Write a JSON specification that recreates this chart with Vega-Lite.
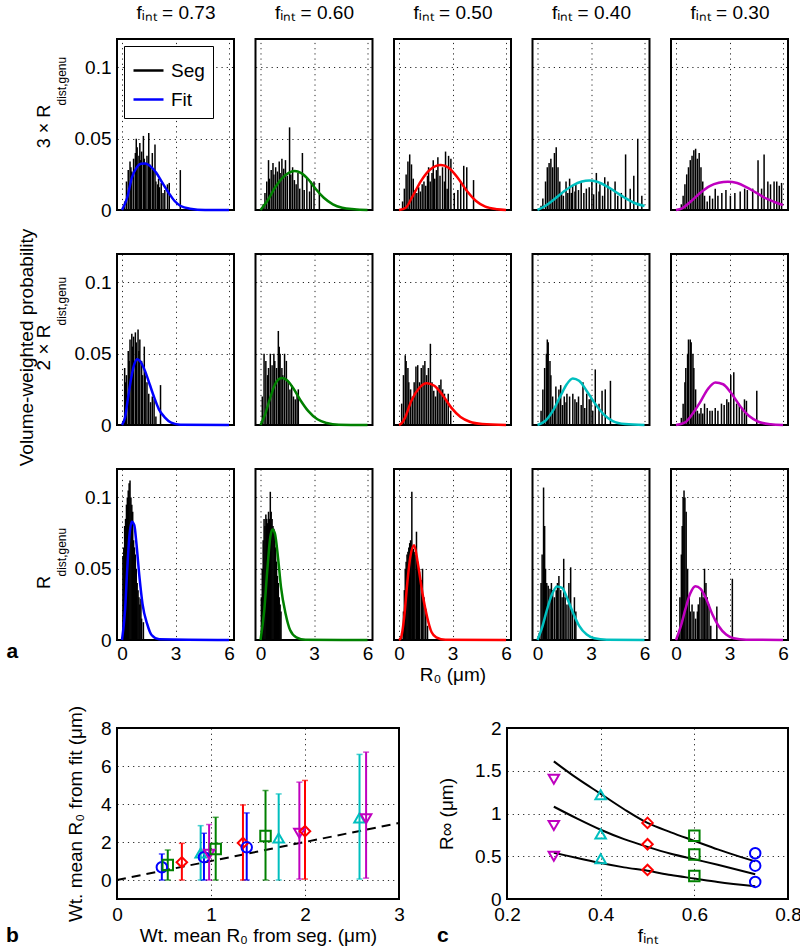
{
"$schema":"https://vega.github.io/schema/vega-lite/v6.json",
"autosize":{"type":"pad"},
"padding":{"left":5,"top":2,"right":5,"bottom":5},
"background":"white",
"config":{
 "font":"Liberation Sans",
 "view":{"stroke":"black","strokeWidth":2},
 "axis":{"labelFont":"Liberation Sans","labelFontSize":19,"labelColor":"black","titleFont":"Liberation Sans","titleFontSize":19,"titleFontWeight":"normal","titleColor":"black","domain":false,"ticks":false,"grid":true,"gridColor":"black","gridDash":[1.2,4],"gridWidth":1,"gridOpacity":0.85,"labelPadding":6,"labelFlush":false},
 "title":{"font":"Liberation Sans","color":"black","fontWeight":"normal"}
},
"datasets":{
"grid":[
{"r":"3","c":"0.73","k":"b","x":0.15,"y":0.006},{"r":"3","c":"0.73","k":"b","x":0.25,"y":0.02},{"r":"3","c":"0.73","k":"b","x":0.35,"y":0.028},{"r":"3","c":"0.73","k":"b","x":0.45,"y":0.034},{"r":"3","c":"0.73","k":"b","x":0.5,"y":0.03},{"r":"3","c":"0.73","k":"b","x":0.55,"y":0.027},{"r":"3","c":"0.73","k":"b","x":0.65,"y":0.036},{"r":"3","c":"0.73","k":"b","x":0.75,"y":0.04},{"r":"3","c":"0.73","k":"b","x":0.8,"y":0.05},{"r":"3","c":"0.73","k":"b","x":0.85,"y":0.044},{"r":"3","c":"0.73","k":"b","x":0.95,"y":0.038},{"r":"3","c":"0.73","k":"b","x":1.0,"y":0.047},{"r":"3","c":"0.73","k":"b","x":1.05,"y":0.035},{"r":"3","c":"0.73","k":"b","x":1.1,"y":0.041},{"r":"3","c":"0.73","k":"b","x":1.2,"y":0.052},{"r":"3","c":"0.73","k":"b","x":1.25,"y":0.036},{"r":"3","c":"0.73","k":"b","x":1.3,"y":0.033},{"r":"3","c":"0.73","k":"b","x":1.4,"y":0.038},{"r":"3","c":"0.73","k":"b","x":1.5,"y":0.054},{"r":"3","c":"0.73","k":"b","x":1.55,"y":0.032},{"r":"3","c":"0.73","k":"b","x":1.6,"y":0.03},{"r":"3","c":"0.73","k":"b","x":1.7,"y":0.04},{"r":"3","c":"0.73","k":"b","x":1.75,"y":0.028},{"r":"3","c":"0.73","k":"b","x":1.85,"y":0.046},{"r":"3","c":"0.73","k":"b","x":1.9,"y":0.02},{"r":"3","c":"0.73","k":"b","x":2.0,"y":0.018},{"r":"3","c":"0.73","k":"b","x":2.05,"y":0.022},{"r":"3","c":"0.73","k":"b","x":2.1,"y":0.016},{"r":"3","c":"0.73","k":"b","x":2.2,"y":0.019},{"r":"3","c":"0.73","k":"b","x":2.3,"y":0.012},{"r":"3","c":"0.73","k":"b","x":2.4,"y":0.014},{"r":"3","c":"0.73","k":"b","x":2.55,"y":0.018},{"r":"3","c":"0.73","k":"b","x":2.65,"y":0.019},{"r":"3","c":"0.73","k":"b","x":3.27,"y":0.028},
{"r":"3","c":"0.73","k":"f","x":0,"y":0},{"r":"3","c":"0.73","k":"f","x":0.29,"y":0.0086},{"r":"3","c":"0.73","k":"f","x":0.55,"y":0.0226},{"r":"3","c":"0.73","k":"f","x":0.81,"y":0.0296},{"r":"3","c":"0.73","k":"f","x":1.06,"y":0.0324},{"r":"3","c":"0.73","k":"f","x":1.32,"y":0.0326},{"r":"3","c":"0.73","k":"f","x":1.58,"y":0.0308},{"r":"3","c":"0.73","k":"f","x":1.92,"y":0.0261},{"r":"3","c":"0.73","k":"f","x":2.26,"y":0.0191},{"r":"3","c":"0.73","k":"f","x":2.61,"y":0.0122},{"r":"3","c":"0.73","k":"f","x":2.95,"y":0.0063},{"r":"3","c":"0.73","k":"f","x":3.29,"y":0.0028},{"r":"3","c":"0.73","k":"f","x":3.81,"y":0.0009},{"r":"3","c":"0.73","k":"f","x":4.66,"y":0},{"r":"3","c":"0.73","k":"f","x":6,"y":0},
{"r":"3","c":"0.60","k":"b","x":0.15,"y":0.004},{"r":"3","c":"0.60","k":"b","x":0.25,"y":0.012},{"r":"3","c":"0.60","k":"b","x":0.35,"y":0.02},{"r":"3","c":"0.60","k":"b","x":0.45,"y":0.035},{"r":"3","c":"0.60","k":"b","x":0.5,"y":0.022},{"r":"3","c":"0.60","k":"b","x":0.6,"y":0.028},{"r":"3","c":"0.60","k":"b","x":0.7,"y":0.033},{"r":"3","c":"0.60","k":"b","x":0.75,"y":0.025},{"r":"3","c":"0.60","k":"b","x":0.85,"y":0.03},{"r":"3","c":"0.60","k":"b","x":0.95,"y":0.027},{"r":"3","c":"0.60","k":"b","x":1.05,"y":0.034},{"r":"3","c":"0.60","k":"b","x":1.1,"y":0.026},{"r":"3","c":"0.60","k":"b","x":1.2,"y":0.036},{"r":"3","c":"0.60","k":"b","x":1.3,"y":0.029},{"r":"3","c":"0.60","k":"b","x":1.4,"y":0.035},{"r":"3","c":"0.60","k":"b","x":1.5,"y":0.024},{"r":"3","c":"0.60","k":"b","x":1.63,"y":0.058},{"r":"3","c":"0.60","k":"b","x":1.7,"y":0.025},{"r":"3","c":"0.60","k":"b","x":1.8,"y":0.03},{"r":"3","c":"0.60","k":"b","x":1.9,"y":0.021},{"r":"3","c":"0.60","k":"b","x":2.0,"y":0.018},{"r":"3","c":"0.60","k":"b","x":2.1,"y":0.026},{"r":"3","c":"0.60","k":"b","x":2.2,"y":0.015},{"r":"3","c":"0.60","k":"b","x":2.35,"y":0.04},{"r":"3","c":"0.60","k":"b","x":2.45,"y":0.014},{"r":"3","c":"0.60","k":"b","x":2.6,"y":0.022},{"r":"3","c":"0.60","k":"b","x":2.75,"y":0.013},{"r":"3","c":"0.60","k":"b","x":2.85,"y":0.02},{"r":"3","c":"0.60","k":"b","x":3.0,"y":0.02},{"r":"3","c":"0.60","k":"b","x":3.3,"y":0.019},
{"r":"3","c":"0.60","k":"f","x":0,"y":0},{"r":"3","c":"0.60","k":"f","x":0.38,"y":0.0063},{"r":"3","c":"0.60","k":"f","x":0.81,"y":0.0156},{"r":"3","c":"0.60","k":"f","x":1.23,"y":0.0226},{"r":"3","c":"0.60","k":"f","x":1.58,"y":0.0261},{"r":"3","c":"0.60","k":"f","x":1.92,"y":0.0273},{"r":"3","c":"0.60","k":"f","x":2.26,"y":0.0261},{"r":"3","c":"0.60","k":"f","x":2.69,"y":0.0214},{"r":"3","c":"0.60","k":"f","x":3.12,"y":0.0144},{"r":"3","c":"0.60","k":"f","x":3.55,"y":0.0086},{"r":"3","c":"0.60","k":"f","x":4.06,"y":0.004},{"r":"3","c":"0.60","k":"f","x":4.58,"y":0.0016},{"r":"3","c":"0.60","k":"f","x":5.26,"y":0.0005},{"r":"3","c":"0.60","k":"f","x":6,"y":0},
{"r":"3","c":"0.50","k":"b","x":0.2,"y":0.006},{"r":"3","c":"0.50","k":"b","x":0.3,"y":0.015},{"r":"3","c":"0.50","k":"b","x":0.4,"y":0.025},{"r":"3","c":"0.50","k":"b","x":0.5,"y":0.034},{"r":"3","c":"0.50","k":"b","x":0.6,"y":0.039},{"r":"3","c":"0.50","k":"b","x":0.7,"y":0.032},{"r":"3","c":"0.50","k":"b","x":0.8,"y":0.022},{"r":"3","c":"0.50","k":"b","x":0.9,"y":0.014},{"r":"3","c":"0.50","k":"b","x":1.0,"y":0.012},{"r":"3","c":"0.50","k":"b","x":1.1,"y":0.016},{"r":"3","c":"0.50","k":"b","x":1.2,"y":0.013},{"r":"3","c":"0.50","k":"b","x":1.3,"y":0.018},{"r":"3","c":"0.50","k":"b","x":1.4,"y":0.02},{"r":"3","c":"0.50","k":"b","x":1.5,"y":0.017},{"r":"3","c":"0.50","k":"b","x":1.6,"y":0.024},{"r":"3","c":"0.50","k":"b","x":1.66,"y":0.03},{"r":"3","c":"0.50","k":"b","x":1.75,"y":0.02},{"r":"3","c":"0.50","k":"b","x":1.85,"y":0.026},{"r":"3","c":"0.50","k":"b","x":1.92,"y":0.035},{"r":"3","c":"0.50","k":"b","x":2.0,"y":0.022},{"r":"3","c":"0.50","k":"b","x":2.1,"y":0.028},{"r":"3","c":"0.50","k":"b","x":2.18,"y":0.037},{"r":"3","c":"0.50","k":"b","x":2.3,"y":0.024},{"r":"3","c":"0.50","k":"b","x":2.44,"y":0.03},{"r":"3","c":"0.50","k":"b","x":2.55,"y":0.02},{"r":"3","c":"0.50","k":"b","x":2.61,"y":0.041},{"r":"3","c":"0.50","k":"b","x":2.7,"y":0.015},{"r":"3","c":"0.50","k":"b","x":2.78,"y":0.038},{"r":"3","c":"0.50","k":"b","x":2.91,"y":0.036},{"r":"3","c":"0.50","k":"b","x":3.1,"y":0.012},{"r":"3","c":"0.50","k":"b","x":3.3,"y":0.014},{"r":"3","c":"0.50","k":"b","x":3.46,"y":0.02},{"r":"3","c":"0.50","k":"b","x":3.63,"y":0.031},{"r":"3","c":"0.50","k":"b","x":3.8,"y":0.03},{"r":"3","c":"0.50","k":"b","x":4.18,"y":0.021},
{"r":"3","c":"0.50","k":"f","x":0,"y":0},{"r":"3","c":"0.50","k":"f","x":0.38,"y":0.0016},{"r":"3","c":"0.50","k":"f","x":0.72,"y":0.0086},{"r":"3","c":"0.50","k":"f","x":1.23,"y":0.0203},{"r":"3","c":"0.50","k":"f","x":1.75,"y":0.0284},{"r":"3","c":"0.50","k":"f","x":2.35,"y":0.0315},{"r":"3","c":"0.50","k":"f","x":2.78,"y":0.0296},{"r":"3","c":"0.50","k":"f","x":3.29,"y":0.0226},{"r":"3","c":"0.50","k":"f","x":3.81,"y":0.0133},{"r":"3","c":"0.50","k":"f","x":4.32,"y":0.0063},{"r":"3","c":"0.50","k":"f","x":4.84,"y":0.0023},{"r":"3","c":"0.50","k":"f","x":5.52,"y":0.0005},{"r":"3","c":"0.50","k":"f","x":6,"y":0},
{"r":"3","c":"0.40","k":"b","x":0.2,"y":0.003},{"r":"3","c":"0.40","k":"b","x":0.3,"y":0.008},{"r":"3","c":"0.40","k":"b","x":0.45,"y":0.02},{"r":"3","c":"0.40","k":"b","x":0.55,"y":0.03},{"r":"3","c":"0.40","k":"b","x":0.65,"y":0.033},{"r":"3","c":"0.40","k":"b","x":0.75,"y":0.036},{"r":"3","c":"0.40","k":"b","x":0.85,"y":0.03},{"r":"3","c":"0.40","k":"b","x":0.95,"y":0.04},{"r":"3","c":"0.40","k":"b","x":1.05,"y":0.044},{"r":"3","c":"0.40","k":"b","x":1.15,"y":0.03},{"r":"3","c":"0.40","k":"b","x":1.25,"y":0.02},{"r":"3","c":"0.40","k":"b","x":1.35,"y":0.012},{"r":"3","c":"0.40","k":"b","x":1.45,"y":0.01},{"r":"3","c":"0.40","k":"b","x":1.6,"y":0.02},{"r":"3","c":"0.40","k":"b","x":1.7,"y":0.012},{"r":"3","c":"0.40","k":"b","x":1.8,"y":0.022},{"r":"3","c":"0.40","k":"b","x":1.9,"y":0.012},{"r":"3","c":"0.40","k":"b","x":1.97,"y":0.017},{"r":"3","c":"0.40","k":"b","x":2.1,"y":0.013},{"r":"3","c":"0.40","k":"b","x":2.15,"y":0.018},{"r":"3","c":"0.40","k":"b","x":2.3,"y":0.014},{"r":"3","c":"0.40","k":"b","x":2.45,"y":0.02},{"r":"3","c":"0.40","k":"b","x":2.6,"y":0.012},{"r":"3","c":"0.40","k":"b","x":2.74,"y":0.015},{"r":"3","c":"0.40","k":"b","x":2.9,"y":0.016},{"r":"3","c":"0.40","k":"b","x":3.05,"y":0.02},{"r":"3","c":"0.40","k":"b","x":3.15,"y":0.011},{"r":"3","c":"0.40","k":"b","x":3.3,"y":0.026},{"r":"3","c":"0.40","k":"b","x":3.45,"y":0.013},{"r":"3","c":"0.40","k":"b","x":3.5,"y":0.018},{"r":"3","c":"0.40","k":"b","x":3.65,"y":0.01},{"r":"3","c":"0.40","k":"b","x":3.77,"y":0.023},{"r":"3","c":"0.40","k":"b","x":3.95,"y":0.02},{"r":"3","c":"0.40","k":"b","x":4.1,"y":0.015},{"r":"3","c":"0.40","k":"b","x":4.35,"y":0.02},{"r":"3","c":"0.40","k":"b","x":4.5,"y":0.01},{"r":"3","c":"0.40","k":"b","x":4.7,"y":0.012},{"r":"3","c":"0.40","k":"b","x":4.94,"y":0.039},{"r":"3","c":"0.40","k":"b","x":5.2,"y":0.015},{"r":"3","c":"0.40","k":"b","x":5.4,"y":0.024},{"r":"3","c":"0.40","k":"b","x":5.62,"y":0.05},{"r":"3","c":"0.40","k":"b","x":5.85,"y":0.01},
{"r":"3","c":"0.40","k":"f","x":0,"y":0},{"r":"3","c":"0.40","k":"f","x":0.43,"y":0.0028},{"r":"3","c":"0.40","k":"f","x":0.94,"y":0.0075},{"r":"3","c":"0.40","k":"f","x":1.46,"y":0.0128},{"r":"3","c":"0.40","k":"f","x":1.97,"y":0.0172},{"r":"3","c":"0.40","k":"f","x":2.49,"y":0.02},{"r":"3","c":"0.40","k":"f","x":2.91,"y":0.0207},{"r":"3","c":"0.40","k":"f","x":3.34,"y":0.0198},{"r":"3","c":"0.40","k":"f","x":3.86,"y":0.0168},{"r":"3","c":"0.40","k":"f","x":4.37,"y":0.0128},{"r":"3","c":"0.40","k":"f","x":4.89,"y":0.0086},{"r":"3","c":"0.40","k":"f","x":5.4,"y":0.0051},{"r":"3","c":"0.40","k":"f","x":6,"y":0.0028},
{"r":"3","c":"0.30","k":"b","x":0.3,"y":0.004},{"r":"3","c":"0.30","k":"b","x":0.4,"y":0.01},{"r":"3","c":"0.30","k":"b","x":0.5,"y":0.018},{"r":"3","c":"0.30","k":"b","x":0.6,"y":0.025},{"r":"3","c":"0.30","k":"b","x":0.7,"y":0.03},{"r":"3","c":"0.30","k":"b","x":0.8,"y":0.035},{"r":"3","c":"0.30","k":"b","x":0.9,"y":0.038},{"r":"3","c":"0.30","k":"b","x":1.0,"y":0.042},{"r":"3","c":"0.30","k":"b","x":1.1,"y":0.043},{"r":"3","c":"0.30","k":"b","x":1.2,"y":0.036},{"r":"3","c":"0.30","k":"b","x":1.3,"y":0.04},{"r":"3","c":"0.30","k":"b","x":1.4,"y":0.03},{"r":"3","c":"0.30","k":"b","x":1.5,"y":0.02},{"r":"3","c":"0.30","k":"b","x":1.6,"y":0.01},{"r":"3","c":"0.30","k":"b","x":1.75,"y":0.006},{"r":"3","c":"0.30","k":"b","x":1.89,"y":0.01},{"r":"3","c":"0.30","k":"b","x":2.05,"y":0.008},{"r":"3","c":"0.30","k":"b","x":2.2,"y":0.015},{"r":"3","c":"0.30","k":"b","x":2.35,"y":0.01},{"r":"3","c":"0.30","k":"b","x":2.57,"y":0.012},{"r":"3","c":"0.30","k":"b","x":2.8,"y":0.014},{"r":"3","c":"0.30","k":"b","x":3.05,"y":0.01},{"r":"3","c":"0.30","k":"b","x":3.3,"y":0.012},{"r":"3","c":"0.30","k":"b","x":3.6,"y":0.013},{"r":"3","c":"0.30","k":"b","x":3.85,"y":0.015},{"r":"3","c":"0.30","k":"b","x":4.0,"y":0.014},{"r":"3","c":"0.30","k":"b","x":4.3,"y":0.015},{"r":"3","c":"0.30","k":"b","x":4.6,"y":0.035},{"r":"3","c":"0.30","k":"b","x":4.8,"y":0.015},{"r":"3","c":"0.30","k":"b","x":4.94,"y":0.039},{"r":"3","c":"0.30","k":"b","x":5.15,"y":0.02},{"r":"3","c":"0.30","k":"b","x":5.3,"y":0.018},{"r":"3","c":"0.30","k":"b","x":5.5,"y":0.02},{"r":"3","c":"0.30","k":"b","x":5.65,"y":0.02},{"r":"3","c":"0.30","k":"b","x":5.79,"y":0.017},{"r":"3","c":"0.30","k":"b","x":5.92,"y":0.019},
{"r":"3","c":"0.30","k":"f","x":0,"y":0},{"r":"3","c":"0.30","k":"f","x":0.34,"y":0.0012},{"r":"3","c":"0.30","k":"f","x":0.86,"y":0.0063},{"r":"3","c":"0.30","k":"f","x":1.37,"y":0.0121},{"r":"3","c":"0.30","k":"f","x":1.89,"y":0.0168},{"r":"3","c":"0.30","k":"f","x":2.4,"y":0.0191},{"r":"3","c":"0.30","k":"f","x":2.91,"y":0.0198},{"r":"3","c":"0.30","k":"f","x":3.43,"y":0.0189},{"r":"3","c":"0.30","k":"f","x":3.94,"y":0.0161},{"r":"3","c":"0.30","k":"f","x":4.46,"y":0.0124},{"r":"3","c":"0.30","k":"f","x":4.97,"y":0.0086},{"r":"3","c":"0.30","k":"f","x":5.49,"y":0.0058},{"r":"3","c":"0.30","k":"f","x":6,"y":0.0035},
{"r":"2","c":"0.73","k":"b","x":0.15,"y":0.04},{"r":"2","c":"0.73","k":"b","x":0.2,"y":0.03},{"r":"2","c":"0.73","k":"b","x":0.25,"y":0.035},{"r":"2","c":"0.73","k":"b","x":0.35,"y":0.052},{"r":"2","c":"0.73","k":"b","x":0.4,"y":0.045},{"r":"2","c":"0.73","k":"b","x":0.45,"y":0.06},{"r":"2","c":"0.73","k":"b","x":0.55,"y":0.064},{"r":"2","c":"0.73","k":"b","x":0.6,"y":0.055},{"r":"2","c":"0.73","k":"b","x":0.65,"y":0.062},{"r":"2","c":"0.73","k":"b","x":0.75,"y":0.065},{"r":"2","c":"0.73","k":"b","x":0.8,"y":0.058},{"r":"2","c":"0.73","k":"b","x":0.9,"y":0.067},{"r":"2","c":"0.73","k":"b","x":0.95,"y":0.052},{"r":"2","c":"0.73","k":"b","x":1.0,"y":0.06},{"r":"2","c":"0.73","k":"b","x":1.1,"y":0.045},{"r":"2","c":"0.73","k":"b","x":1.15,"y":0.035},{"r":"2","c":"0.73","k":"b","x":1.25,"y":0.055},{"r":"2","c":"0.73","k":"b","x":1.3,"y":0.035},{"r":"2","c":"0.73","k":"b","x":1.4,"y":0.03},{"r":"2","c":"0.73","k":"b","x":1.5,"y":0.022},{"r":"2","c":"0.73","k":"b","x":1.6,"y":0.016},{"r":"2","c":"0.73","k":"b","x":1.7,"y":0.02},{"r":"2","c":"0.73","k":"b","x":1.8,"y":0.018},{"r":"2","c":"0.73","k":"b","x":1.9,"y":0.006},{"r":"2","c":"0.73","k":"b","x":2.16,"y":0.028},
{"r":"2","c":"0.73","k":"f","x":0,"y":0},{"r":"2","c":"0.73","k":"f","x":0.17,"y":0.0052},{"r":"2","c":"0.73","k":"f","x":0.34,"y":0.0192},{"r":"2","c":"0.73","k":"f","x":0.52,"y":0.0333},{"r":"2","c":"0.73","k":"f","x":0.69,"y":0.0427},{"r":"2","c":"0.73","k":"f","x":0.86,"y":0.0462},{"r":"2","c":"0.73","k":"f","x":1.03,"y":0.0446},{"r":"2","c":"0.73","k":"f","x":1.29,"y":0.038},{"r":"2","c":"0.73","k":"f","x":1.55,"y":0.0286},{"r":"2","c":"0.73","k":"f","x":1.81,"y":0.0192},{"r":"2","c":"0.73","k":"f","x":2.07,"y":0.011},{"r":"2","c":"0.73","k":"f","x":2.41,"y":0.0052},{"r":"2","c":"0.73","k":"f","x":2.76,"y":0.0016},{"r":"2","c":"0.73","k":"f","x":3.28,"y":0.0002},{"r":"2","c":"0.73","k":"f","x":6,"y":0},
{"r":"2","c":"0.60","k":"b","x":0.1,"y":0.02},{"r":"2","c":"0.60","k":"b","x":0.2,"y":0.05},{"r":"2","c":"0.60","k":"b","x":0.3,"y":0.045},{"r":"2","c":"0.60","k":"b","x":0.4,"y":0.035},{"r":"2","c":"0.60","k":"b","x":0.45,"y":0.04},{"r":"2","c":"0.60","k":"b","x":0.55,"y":0.05},{"r":"2","c":"0.60","k":"b","x":0.65,"y":0.042},{"r":"2","c":"0.60","k":"b","x":0.75,"y":0.05},{"r":"2","c":"0.60","k":"b","x":0.8,"y":0.045},{"r":"2","c":"0.60","k":"b","x":0.9,"y":0.04},{"r":"2","c":"0.60","k":"b","x":1.0,"y":0.066},{"r":"2","c":"0.60","k":"b","x":1.05,"y":0.055},{"r":"2","c":"0.60","k":"b","x":1.1,"y":0.05},{"r":"2","c":"0.60","k":"b","x":1.2,"y":0.04},{"r":"2","c":"0.60","k":"b","x":1.25,"y":0.035},{"r":"2","c":"0.60","k":"b","x":1.35,"y":0.05},{"r":"2","c":"0.60","k":"b","x":1.45,"y":0.045},{"r":"2","c":"0.60","k":"b","x":1.55,"y":0.03},{"r":"2","c":"0.60","k":"b","x":1.65,"y":0.025},{"r":"2","c":"0.60","k":"b","x":1.75,"y":0.028},{"r":"2","c":"0.60","k":"b","x":1.85,"y":0.02},{"r":"2","c":"0.60","k":"b","x":1.95,"y":0.018},{"r":"2","c":"0.60","k":"b","x":2.05,"y":0.022},{"r":"2","c":"0.60","k":"b","x":2.12,"y":0.025},
{"r":"2","c":"0.60","k":"f","x":0,"y":0},{"r":"2","c":"0.60","k":"f","x":0.26,"y":0.0075},{"r":"2","c":"0.60","k":"f","x":0.52,"y":0.0181},{"r":"2","c":"0.60","k":"f","x":0.78,"y":0.0275},{"r":"2","c":"0.60","k":"f","x":1.03,"y":0.0322},{"r":"2","c":"0.60","k":"f","x":1.21,"y":0.0329},{"r":"2","c":"0.60","k":"f","x":1.47,"y":0.0315},{"r":"2","c":"0.60","k":"f","x":1.81,"y":0.0263},{"r":"2","c":"0.60","k":"f","x":2.24,"y":0.0174},{"r":"2","c":"0.60","k":"f","x":2.67,"y":0.0099},{"r":"2","c":"0.60","k":"f","x":3.19,"y":0.004},{"r":"2","c":"0.60","k":"f","x":3.71,"y":0.0014},{"r":"2","c":"0.60","k":"f","x":4.4,"y":0.0002},{"r":"2","c":"0.60","k":"f","x":6,"y":0},
{"r":"2","c":"0.50","k":"b","x":0.15,"y":0.015},{"r":"2","c":"0.50","k":"b","x":0.25,"y":0.035},{"r":"2","c":"0.50","k":"b","x":0.35,"y":0.049},{"r":"2","c":"0.50","k":"b","x":0.4,"y":0.045},{"r":"2","c":"0.50","k":"b","x":0.5,"y":0.04},{"r":"2","c":"0.50","k":"b","x":0.55,"y":0.03},{"r":"2","c":"0.50","k":"b","x":0.65,"y":0.025},{"r":"2","c":"0.50","k":"b","x":0.75,"y":0.02},{"r":"2","c":"0.50","k":"b","x":0.85,"y":0.03},{"r":"2","c":"0.50","k":"b","x":0.95,"y":0.041},{"r":"2","c":"0.50","k":"b","x":1.05,"y":0.042},{"r":"2","c":"0.50","k":"b","x":1.15,"y":0.03},{"r":"2","c":"0.50","k":"b","x":1.25,"y":0.04},{"r":"2","c":"0.50","k":"b","x":1.35,"y":0.042},{"r":"2","c":"0.50","k":"b","x":1.45,"y":0.045},{"r":"2","c":"0.50","k":"b","x":1.55,"y":0.035},{"r":"2","c":"0.50","k":"b","x":1.65,"y":0.04},{"r":"2","c":"0.50","k":"b","x":1.76,"y":0.057},{"r":"2","c":"0.50","k":"b","x":1.85,"y":0.03},{"r":"2","c":"0.50","k":"b","x":1.95,"y":0.024},{"r":"2","c":"0.50","k":"b","x":2.05,"y":0.02},{"r":"2","c":"0.50","k":"b","x":2.15,"y":0.025},{"r":"2","c":"0.50","k":"b","x":2.25,"y":0.028},{"r":"2","c":"0.50","k":"b","x":2.35,"y":0.032},{"r":"2","c":"0.50","k":"b","x":2.45,"y":0.025},{"r":"2","c":"0.50","k":"b","x":2.55,"y":0.022},{"r":"2","c":"0.50","k":"b","x":2.65,"y":0.018},{"r":"2","c":"0.50","k":"b","x":2.76,"y":0.022},{"r":"2","c":"0.50","k":"b","x":2.9,"y":0.01},
{"r":"2","c":"0.50","k":"f","x":0,"y":0},{"r":"2","c":"0.50","k":"f","x":0.17,"y":0.0015},{"r":"2","c":"0.50","k":"f","x":0.34,"y":0.0052},{"r":"2","c":"0.50","k":"f","x":0.69,"y":0.0169},{"r":"2","c":"0.50","k":"f","x":1.12,"y":0.0258},{"r":"2","c":"0.50","k":"f","x":1.55,"y":0.0293},{"r":"2","c":"0.50","k":"f","x":1.98,"y":0.0275},{"r":"2","c":"0.50","k":"f","x":2.41,"y":0.0216},{"r":"2","c":"0.50","k":"f","x":2.93,"y":0.0122},{"r":"2","c":"0.50","k":"f","x":3.45,"y":0.0056},{"r":"2","c":"0.50","k":"f","x":3.97,"y":0.0023},{"r":"2","c":"0.50","k":"f","x":4.66,"y":0.0007},{"r":"2","c":"0.50","k":"f","x":6,"y":0},
{"r":"2","c":"0.40","k":"b","x":0.2,"y":0.01},{"r":"2","c":"0.40","k":"b","x":0.3,"y":0.025},{"r":"2","c":"0.40","k":"b","x":0.4,"y":0.04},{"r":"2","c":"0.40","k":"b","x":0.5,"y":0.05},{"r":"2","c":"0.40","k":"b","x":0.55,"y":0.06},{"r":"2","c":"0.40","k":"b","x":0.6,"y":0.058},{"r":"2","c":"0.40","k":"b","x":0.7,"y":0.045},{"r":"2","c":"0.40","k":"b","x":0.75,"y":0.035},{"r":"2","c":"0.40","k":"b","x":0.85,"y":0.02},{"r":"2","c":"0.40","k":"b","x":0.95,"y":0.012},{"r":"2","c":"0.40","k":"b","x":1.03,"y":0.027},{"r":"2","c":"0.40","k":"b","x":1.15,"y":0.015},{"r":"2","c":"0.40","k":"b","x":1.2,"y":0.025},{"r":"2","c":"0.40","k":"b","x":1.3,"y":0.028},{"r":"2","c":"0.40","k":"b","x":1.4,"y":0.014},{"r":"2","c":"0.40","k":"b","x":1.5,"y":0.02},{"r":"2","c":"0.40","k":"b","x":1.6,"y":0.016},{"r":"2","c":"0.40","k":"b","x":1.65,"y":0.022},{"r":"2","c":"0.40","k":"b","x":1.8,"y":0.02},{"r":"2","c":"0.40","k":"b","x":1.98,"y":0.022},{"r":"2","c":"0.40","k":"b","x":2.1,"y":0.018},{"r":"2","c":"0.40","k":"b","x":2.2,"y":0.016},{"r":"2","c":"0.40","k":"b","x":2.3,"y":0.02},{"r":"2","c":"0.40","k":"b","x":2.45,"y":0.014},{"r":"2","c":"0.40","k":"b","x":2.55,"y":0.03},{"r":"2","c":"0.40","k":"b","x":2.65,"y":0.012},{"r":"2","c":"0.40","k":"b","x":2.76,"y":0.022},{"r":"2","c":"0.40","k":"b","x":2.9,"y":0.018},{"r":"2","c":"0.40","k":"b","x":3.0,"y":0.02},{"r":"2","c":"0.40","k":"b","x":3.1,"y":0.01},{"r":"2","c":"0.40","k":"b","x":3.24,"y":0.039},{"r":"2","c":"0.40","k":"b","x":3.45,"y":0.015},{"r":"2","c":"0.40","k":"b","x":3.62,"y":0.024},{"r":"2","c":"0.40","k":"b","x":3.8,"y":0.025},{"r":"2","c":"0.40","k":"b","x":4.09,"y":0.031},
{"r":"2","c":"0.40","k":"f","x":0,"y":0},{"r":"2","c":"0.40","k":"f","x":0.43,"y":0.0028},{"r":"2","c":"0.40","k":"f","x":0.86,"y":0.0099},{"r":"2","c":"0.40","k":"f","x":1.29,"y":0.0204},{"r":"2","c":"0.40","k":"f","x":1.64,"y":0.0286},{"r":"2","c":"0.40","k":"f","x":1.98,"y":0.0326},{"r":"2","c":"0.40","k":"f","x":2.33,"y":0.031},{"r":"2","c":"0.40","k":"f","x":2.76,"y":0.0239},{"r":"2","c":"0.40","k":"f","x":3.19,"y":0.0157},{"r":"2","c":"0.40","k":"f","x":3.71,"y":0.0075},{"r":"2","c":"0.40","k":"f","x":4.22,"y":0.0028},{"r":"2","c":"0.40","k":"f","x":4.91,"y":0.0007},{"r":"2","c":"0.40","k":"f","x":6,"y":0},
{"r":"2","c":"0.30","k":"b","x":0.3,"y":0.005},{"r":"2","c":"0.30","k":"b","x":0.4,"y":0.015},{"r":"2","c":"0.30","k":"b","x":0.5,"y":0.03},{"r":"2","c":"0.30","k":"b","x":0.55,"y":0.04},{"r":"2","c":"0.30","k":"b","x":0.65,"y":0.05},{"r":"2","c":"0.30","k":"b","x":0.7,"y":0.06},{"r":"2","c":"0.30","k":"b","x":0.8,"y":0.06},{"r":"2","c":"0.30","k":"b","x":0.85,"y":0.058},{"r":"2","c":"0.30","k":"b","x":0.95,"y":0.05},{"r":"2","c":"0.30","k":"b","x":1.0,"y":0.04},{"r":"2","c":"0.30","k":"b","x":1.1,"y":0.025},{"r":"2","c":"0.30","k":"b","x":1.2,"y":0.01},{"r":"2","c":"0.30","k":"b","x":1.3,"y":0.008},{"r":"2","c":"0.30","k":"b","x":1.4,"y":0.012},{"r":"2","c":"0.30","k":"b","x":1.5,"y":0.008},{"r":"2","c":"0.30","k":"b","x":1.6,"y":0.015},{"r":"2","c":"0.30","k":"b","x":1.75,"y":0.012},{"r":"2","c":"0.30","k":"b","x":1.9,"y":0.01},{"r":"2","c":"0.30","k":"b","x":2.03,"y":0.01},{"r":"2","c":"0.30","k":"b","x":2.2,"y":0.012},{"r":"2","c":"0.30","k":"b","x":2.35,"y":0.01},{"r":"2","c":"0.30","k":"b","x":2.55,"y":0.015},{"r":"2","c":"0.30","k":"b","x":2.7,"y":0.014},{"r":"2","c":"0.30","k":"b","x":2.85,"y":0.018},{"r":"2","c":"0.30","k":"b","x":2.95,"y":0.016},{"r":"2","c":"0.30","k":"b","x":3.07,"y":0.035},{"r":"2","c":"0.30","k":"b","x":3.24,"y":0.037},{"r":"2","c":"0.30","k":"b","x":3.4,"y":0.015},{"r":"2","c":"0.30","k":"b","x":3.55,"y":0.015},{"r":"2","c":"0.30","k":"b","x":3.7,"y":0.012},{"r":"2","c":"0.30","k":"b","x":3.84,"y":0.018},{"r":"2","c":"0.30","k":"b","x":3.95,"y":0.017},{"r":"2","c":"0.30","k":"b","x":4.53,"y":0.024},
{"r":"2","c":"0.30","k":"f","x":0,"y":0},{"r":"2","c":"0.30","k":"f","x":0.48,"y":0.0016},{"r":"2","c":"0.30","k":"f","x":0.91,"y":0.0075},{"r":"2","c":"0.30","k":"f","x":1.34,"y":0.0157},{"r":"2","c":"0.30","k":"f","x":1.78,"y":0.0251},{"r":"2","c":"0.30","k":"f","x":2.21,"y":0.0298},{"r":"2","c":"0.30","k":"f","x":2.64,"y":0.0286},{"r":"2","c":"0.30","k":"f","x":3.07,"y":0.0228},{"r":"2","c":"0.30","k":"f","x":3.59,"y":0.0134},{"r":"2","c":"0.30","k":"f","x":4.1,"y":0.0063},{"r":"2","c":"0.30","k":"f","x":4.62,"y":0.0023},{"r":"2","c":"0.30","k":"f","x":5.31,"y":0.0005},{"r":"2","c":"0.30","k":"f","x":6,"y":0},
{"r":"1","c":"0.73","k":"b","x":0.05,"y":0.059},{"r":"1","c":"0.73","k":"b","x":0.1,"y":0.065},{"r":"1","c":"0.73","k":"b","x":0.15,"y":0.08},{"r":"1","c":"0.73","k":"b","x":0.2,"y":0.085},{"r":"1","c":"0.73","k":"b","x":0.25,"y":0.095},{"r":"1","c":"0.73","k":"b","x":0.3,"y":0.1},{"r":"1","c":"0.73","k":"b","x":0.35,"y":0.105},{"r":"1","c":"0.73","k":"b","x":0.4,"y":0.11},{"r":"1","c":"0.73","k":"b","x":0.45,"y":0.112},{"r":"1","c":"0.73","k":"b","x":0.5,"y":0.1},{"r":"1","c":"0.73","k":"b","x":0.55,"y":0.095},{"r":"1","c":"0.73","k":"b","x":0.6,"y":0.09},{"r":"1","c":"0.73","k":"b","x":0.65,"y":0.07},{"r":"1","c":"0.73","k":"b","x":0.7,"y":0.065},{"r":"1","c":"0.73","k":"b","x":0.75,"y":0.06},{"r":"1","c":"0.73","k":"b","x":0.8,"y":0.05},{"r":"1","c":"0.73","k":"b","x":0.85,"y":0.04},{"r":"1","c":"0.73","k":"b","x":0.9,"y":0.035},{"r":"1","c":"0.73","k":"b","x":0.95,"y":0.03},{"r":"1","c":"0.73","k":"b","x":1.0,"y":0.025},{"r":"1","c":"0.73","k":"b","x":1.06,"y":0.029},{"r":"1","c":"0.73","k":"b","x":1.1,"y":0.015},{"r":"1","c":"0.73","k":"b","x":1.2,"y":0.0125},
{"r":"1","c":"0.73","k":"f","x":0,"y":0},{"r":"1","c":"0.73","k":"f","x":0.17,"y":0.0207},{"r":"1","c":"0.73","k":"f","x":0.29,"y":0.0488},{"r":"1","c":"0.73","k":"f","x":0.41,"y":0.0723},{"r":"1","c":"0.73","k":"f","x":0.55,"y":0.0829},{"r":"1","c":"0.73","k":"f","x":0.69,"y":0.0805},{"r":"1","c":"0.73","k":"f","x":0.81,"y":0.0676},{"r":"1","c":"0.73","k":"f","x":0.98,"y":0.0441},{"r":"1","c":"0.73","k":"f","x":1.15,"y":0.0254},{"r":"1","c":"0.73","k":"f","x":1.41,"y":0.0113},{"r":"1","c":"0.73","k":"f","x":1.66,"y":0.0035},{"r":"1","c":"0.73","k":"f","x":2.09,"y":0.0005},{"r":"1","c":"0.73","k":"f","x":6,"y":0},
{"r":"1","c":"0.60","k":"b","x":0.05,"y":0.03},{"r":"1","c":"0.60","k":"b","x":0.1,"y":0.05},{"r":"1","c":"0.60","k":"b","x":0.15,"y":0.07},{"r":"1","c":"0.60","k":"b","x":0.2,"y":0.085},{"r":"1","c":"0.60","k":"b","x":0.25,"y":0.08},{"r":"1","c":"0.60","k":"b","x":0.3,"y":0.088},{"r":"1","c":"0.60","k":"b","x":0.35,"y":0.085},{"r":"1","c":"0.60","k":"b","x":0.4,"y":0.082},{"r":"1","c":"0.60","k":"b","x":0.45,"y":0.09},{"r":"1","c":"0.60","k":"b","x":0.5,"y":0.085},{"r":"1","c":"0.60","k":"b","x":0.55,"y":0.104},{"r":"1","c":"0.60","k":"b","x":0.6,"y":0.09},{"r":"1","c":"0.60","k":"b","x":0.65,"y":0.085},{"r":"1","c":"0.60","k":"b","x":0.7,"y":0.08},{"r":"1","c":"0.60","k":"b","x":0.75,"y":0.078},{"r":"1","c":"0.60","k":"b","x":0.8,"y":0.075},{"r":"1","c":"0.60","k":"b","x":0.85,"y":0.065},{"r":"1","c":"0.60","k":"b","x":0.9,"y":0.055},{"r":"1","c":"0.60","k":"b","x":0.95,"y":0.045},{"r":"1","c":"0.60","k":"b","x":1.0,"y":0.04},{"r":"1","c":"0.60","k":"b","x":1.05,"y":0.03},{"r":"1","c":"0.60","k":"b","x":1.1,"y":0.025},{"r":"1","c":"0.60","k":"b","x":1.15,"y":0.02},
{"r":"1","c":"0.60","k":"f","x":0,"y":0},{"r":"1","c":"0.60","k":"f","x":0.21,"y":0.0207},{"r":"1","c":"0.60","k":"f","x":0.38,"y":0.0488},{"r":"1","c":"0.60","k":"f","x":0.55,"y":0.0723},{"r":"1","c":"0.60","k":"f","x":0.67,"y":0.0775},{"r":"1","c":"0.60","k":"f","x":0.81,"y":0.0746},{"r":"1","c":"0.60","k":"f","x":0.98,"y":0.0582},{"r":"1","c":"0.60","k":"f","x":1.15,"y":0.0371},{"r":"1","c":"0.60","k":"f","x":1.41,"y":0.0183},{"r":"1","c":"0.60","k":"f","x":1.66,"y":0.007},{"r":"1","c":"0.60","k":"f","x":2.01,"y":0.0019},{"r":"1","c":"0.60","k":"f","x":2.52,"y":0.0002},{"r":"1","c":"0.60","k":"f","x":6,"y":0},
{"r":"1","c":"0.50","k":"b","x":0.15,"y":0.005},{"r":"1","c":"0.50","k":"b","x":0.25,"y":0.02},{"r":"1","c":"0.50","k":"b","x":0.3,"y":0.035},{"r":"1","c":"0.50","k":"b","x":0.35,"y":0.05},{"r":"1","c":"0.50","k":"b","x":0.4,"y":0.055},{"r":"1","c":"0.50","k":"b","x":0.45,"y":0.06},{"r":"1","c":"0.50","k":"b","x":0.5,"y":0.062},{"r":"1","c":"0.50","k":"b","x":0.55,"y":0.065},{"r":"1","c":"0.50","k":"b","x":0.6,"y":0.068},{"r":"1","c":"0.50","k":"b","x":0.65,"y":0.07},{"r":"1","c":"0.50","k":"b","x":0.72,"y":0.104},{"r":"1","c":"0.50","k":"b","x":0.75,"y":0.065},{"r":"1","c":"0.50","k":"b","x":0.8,"y":0.064},{"r":"1","c":"0.50","k":"b","x":0.85,"y":0.062},{"r":"1","c":"0.50","k":"b","x":0.9,"y":0.06},{"r":"1","c":"0.50","k":"b","x":0.98,"y":0.076},{"r":"1","c":"0.50","k":"b","x":1.05,"y":0.055},{"r":"1","c":"0.50","k":"b","x":1.1,"y":0.05},{"r":"1","c":"0.50","k":"b","x":1.15,"y":0.048},{"r":"1","c":"0.50","k":"b","x":1.25,"y":0.042},{"r":"1","c":"0.50","k":"b","x":1.32,"y":0.05},{"r":"1","c":"0.50","k":"b","x":1.4,"y":0.03},{"r":"1","c":"0.50","k":"b","x":1.5,"y":0.022},{"r":"1","c":"0.50","k":"b","x":1.6,"y":0.01},
{"r":"1","c":"0.50","k":"f","x":0,"y":0},{"r":"1","c":"0.50","k":"f","x":0.12,"y":0.0019},{"r":"1","c":"0.50","k":"f","x":0.29,"y":0.0159},{"r":"1","c":"0.50","k":"f","x":0.46,"y":0.0394},{"r":"1","c":"0.50","k":"f","x":0.63,"y":0.058},{"r":"1","c":"0.50","k":"f","x":0.85,"y":0.0665},{"r":"1","c":"0.50","k":"f","x":1.06,"y":0.0535},{"r":"1","c":"0.50","k":"f","x":1.32,"y":0.0324},{"r":"1","c":"0.50","k":"f","x":1.58,"y":0.016},{"r":"1","c":"0.50","k":"f","x":1.83,"y":0.0054},{"r":"1","c":"0.50","k":"f","x":2.09,"y":0.0019},{"r":"1","c":"0.50","k":"f","x":2.6,"y":0.0002},{"r":"1","c":"0.50","k":"f","x":6,"y":0},
{"r":"1","c":"0.40","k":"b","x":0.1,"y":0.005},{"r":"1","c":"0.40","k":"b","x":0.2,"y":0.04},{"r":"1","c":"0.40","k":"b","x":0.26,"y":0.06},{"r":"1","c":"0.40","k":"b","x":0.34,"y":0.107},{"r":"1","c":"0.40","k":"b","x":0.4,"y":0.08},{"r":"1","c":"0.40","k":"b","x":0.45,"y":0.05},{"r":"1","c":"0.40","k":"b","x":0.52,"y":0.04},{"r":"1","c":"0.40","k":"b","x":0.6,"y":0.038},{"r":"1","c":"0.40","k":"b","x":0.7,"y":0.036},{"r":"1","c":"0.40","k":"b","x":0.78,"y":0.04},{"r":"1","c":"0.40","k":"b","x":0.85,"y":0.035},{"r":"1","c":"0.40","k":"b","x":0.95,"y":0.03},{"r":"1","c":"0.40","k":"b","x":1.05,"y":0.035},{"r":"1","c":"0.40","k":"b","x":1.12,"y":0.04},{"r":"1","c":"0.40","k":"b","x":1.2,"y":0.045},{"r":"1","c":"0.40","k":"b","x":1.3,"y":0.035},{"r":"1","c":"0.40","k":"b","x":1.38,"y":0.03},{"r":"1","c":"0.40","k":"b","x":1.47,"y":0.057},{"r":"1","c":"0.40","k":"b","x":1.55,"y":0.03},{"r":"1","c":"0.40","k":"b","x":1.65,"y":0.025},{"r":"1","c":"0.40","k":"b","x":1.76,"y":0.04},{"r":"1","c":"0.40","k":"b","x":1.86,"y":0.051},{"r":"1","c":"0.40","k":"b","x":1.95,"y":0.02},{"r":"1","c":"0.40","k":"b","x":2.07,"y":0.03},{"r":"1","c":"0.40","k":"b","x":2.15,"y":0.02},
{"r":"1","c":"0.40","k":"f","x":0,"y":0},{"r":"1","c":"0.40","k":"f","x":0.26,"y":0.0089},{"r":"1","c":"0.40","k":"f","x":0.52,"y":0.0207},{"r":"1","c":"0.40","k":"f","x":0.78,"y":0.031},{"r":"1","c":"0.40","k":"f","x":1.09,"y":0.0376},{"r":"1","c":"0.40","k":"f","x":1.38,"y":0.0366},{"r":"1","c":"0.40","k":"f","x":1.64,"y":0.03},{"r":"1","c":"0.40","k":"f","x":1.98,"y":0.0195},{"r":"1","c":"0.40","k":"f","x":2.33,"y":0.0101},{"r":"1","c":"0.40","k":"f","x":2.76,"y":0.0038},{"r":"1","c":"0.40","k":"f","x":3.19,"y":0.0012},{"r":"1","c":"0.40","k":"f","x":3.88,"y":0.0002},{"r":"1","c":"0.40","k":"f","x":6,"y":0},
{"r":"1","c":"0.30","k":"b","x":0.15,"y":0.005},{"r":"1","c":"0.30","k":"b","x":0.22,"y":0.03},{"r":"1","c":"0.30","k":"b","x":0.3,"y":0.06},{"r":"1","c":"0.30","k":"b","x":0.35,"y":0.08},{"r":"1","c":"0.30","k":"b","x":0.4,"y":0.1},{"r":"1","c":"0.30","k":"b","x":0.45,"y":0.105},{"r":"1","c":"0.30","k":"b","x":0.5,"y":0.1},{"r":"1","c":"0.30","k":"b","x":0.57,"y":0.09},{"r":"1","c":"0.30","k":"b","x":0.65,"y":0.05},{"r":"1","c":"0.30","k":"b","x":0.74,"y":0.03},{"r":"1","c":"0.30","k":"b","x":0.8,"y":0.02},{"r":"1","c":"0.30","k":"b","x":0.9,"y":0.025},{"r":"1","c":"0.30","k":"b","x":1.0,"y":0.02},{"r":"1","c":"0.30","k":"b","x":1.1,"y":0.015},{"r":"1","c":"0.30","k":"b","x":1.2,"y":0.02},{"r":"1","c":"0.30","k":"b","x":1.25,"y":0.025},{"r":"1","c":"0.30","k":"b","x":1.34,"y":0.03},{"r":"1","c":"0.30","k":"b","x":1.45,"y":0.035},{"r":"1","c":"0.30","k":"b","x":1.52,"y":0.03},{"r":"1","c":"0.30","k":"b","x":1.6,"y":0.05},{"r":"1","c":"0.30","k":"b","x":1.68,"y":0.04},{"r":"1","c":"0.30","k":"b","x":1.75,"y":0.03},{"r":"1","c":"0.30","k":"b","x":1.85,"y":0.025},{"r":"1","c":"0.30","k":"b","x":1.95,"y":0.01},{"r":"1","c":"0.30","k":"b","x":2.29,"y":0.0235},{"r":"1","c":"0.30","k":"b","x":3.16,"y":0.043},
{"r":"1","c":"0.30","k":"f","x":0,"y":0},{"r":"1","c":"0.30","k":"f","x":0.28,"y":0.0101},{"r":"1","c":"0.30","k":"f","x":0.53,"y":0.0218},{"r":"1","c":"0.30","k":"f","x":0.79,"y":0.0324},{"r":"1","c":"0.30","k":"f","x":1.09,"y":0.0378},{"r":"1","c":"0.30","k":"f","x":1.38,"y":0.0359},{"r":"1","c":"0.30","k":"f","x":1.69,"y":0.0289},{"r":"1","c":"0.30","k":"f","x":2.03,"y":0.0183},{"r":"1","c":"0.30","k":"f","x":2.38,"y":0.01},{"r":"1","c":"0.30","k":"f","x":2.81,"y":0.0038},{"r":"1","c":"0.30","k":"f","x":3.24,"y":0.0012},{"r":"1","c":"0.30","k":"f","x":3.93,"y":0.0002},{"r":"1","c":"0.30","k":"f","x":6,"y":0}
],
"bpts":[
{"c":"0.73","xs":0.477,"yf":0.67,"lo":0,"hi":1.37},
{"c":"0.60","xs":0.54,"yf":0.79,"lo":0,"hi":1.58},
{"c":"0.50","xs":0.69,"yf":0.93,"lo":0,"hi":1.93},
{"c":"0.40","xs":0.89,"yf":1.42,"lo":0,"hi":2.86},
{"c":"0.73","xs":0.925,"yf":1.2,"lo":0,"hi":2.46},
{"c":"0.30","xs":0.98,"yf":1.35,"lo":0,"hi":2.92},
{"c":"0.60","xs":1.05,"yf":1.63,"lo":0,"hi":3.3},
{"c":"0.50","xs":1.34,"yf":1.95,"lo":0,"hi":3.95},
{"c":"0.73","xs":1.38,"yf":1.72,"lo":0,"hi":3.53},
{"c":"0.60","xs":1.58,"yf":2.32,"lo":0,"hi":4.71},
{"c":"0.40","xs":1.72,"yf":2.21,"lo":0,"hi":4.53},
{"c":"0.30","xs":1.94,"yf":2.46,"lo":0.05,"hi":5.15},
{"c":"0.50","xs":2.0,"yf":2.57,"lo":0.05,"hi":5.24},
{"c":"0.40","xs":2.58,"yf":3.27,"lo":0.05,"hi":6.61},
{"c":"0.30","xs":2.65,"yf":3.22,"lo":0.1,"hi":6.73}
],
"cpts":[
{"c":"0.30","f":0.3,"R":1.4},{"c":"0.30","f":0.3,"R":0.86},{"c":"0.30","f":0.3,"R":0.5},
{"c":"0.40","f":0.4,"R":1.22},{"c":"0.40","f":0.4,"R":0.76},{"c":"0.40","f":0.4,"R":0.47},
{"c":"0.50","f":0.5,"R":0.89},{"c":"0.50","f":0.5,"R":0.64},{"c":"0.50","f":0.5,"R":0.34},
{"c":"0.60","f":0.6,"R":0.74},{"c":"0.60","f":0.6,"R":0.52},{"c":"0.60","f":0.6,"R":0.27},
{"c":"0.73","f":0.73,"R":0.535},{"c":"0.73","f":0.73,"R":0.39},{"c":"0.73","f":0.73,"R":0.2}
],
"clines":[
{"g":"t","f":0.3,"R":1.61},{"g":"t","f":0.35,"R":1.41},{"g":"t","f":0.4,"R":1.23},{"g":"t","f":0.45,"R":1.05},{"g":"t","f":0.5,"R":0.89},{"g":"t","f":0.55,"R":0.78},{"g":"t","f":0.6,"R":0.68},{"g":"t","f":0.65,"R":0.58},{"g":"t","f":0.7,"R":0.49},{"g":"t","f":0.73,"R":0.44},
{"g":"m","f":0.3,"R":1.08},{"g":"m","f":0.35,"R":0.94},{"g":"m","f":0.4,"R":0.81},{"g":"m","f":0.45,"R":0.7},{"g":"m","f":0.5,"R":0.61},{"g":"m","f":0.55,"R":0.53},{"g":"m","f":0.6,"R":0.465},{"g":"m","f":0.65,"R":0.4},{"g":"m","f":0.73,"R":0.29},
{"g":"b","f":0.3,"R":0.54},{"g":"b","f":0.35,"R":0.48},{"g":"b","f":0.4,"R":0.42},{"g":"b","f":0.45,"R":0.37},{"g":"b","f":0.5,"R":0.33},{"g":"b","f":0.55,"R":0.28},{"g":"b","f":0.6,"R":0.24},{"g":"b","f":0.65,"R":0.2},{"g":"b","f":0.73,"R":0.15}
]
},
"resolve":{"scale":{"color":"independent","shape":"independent"},"legend":{"color":"independent","shape":"independent"}},
"spacing":19,
"vconcat":[
{
"data":{"name":"grid"},
"resolve":{"scale":{"color":"independent"},"legend":{"color":"independent"}},
"columns":5,
"bounds":"flush",
"spacing":{"row":44,"column":21.5},
"concat":[
{"width":117,"height":171,"transform":[{"filter":"datum.r=='3' && datum.c=='0.73'"}],
 "title":{"text":"3 × R","orient":"left","anchor":"middle","fontSize":18,"offset":1,"dx":-2},
 "encoding":{"x":{"field":"x","type":"quantitative","scale":{"domain":[0,6]},"axis":{"values":[0,3,6],"orient":"top","labels":false,"title":"fᵢₙₜ = 0.73","titleBaseline":"alphabetic","titlePadding":21}},"y":{"field":"y","type":"quantitative","scale":{"domain":[0,0.12]},"axis":{"values":[0,0.05,0.1],"format":"~g","title":"dist,genu","titleFontSize":12,"titleAlign":"left","titleY":66,"titlePadding":6}}},
 "layer":[{"transform":[{"filter":"datum.k=='b'"}],"mark":{"type":"bar","size":1.5,"color":"black"}},
  {"transform":[{"filter":"datum.k=='f'"}],"mark":{"type":"line","strokeWidth":2.5,"interpolate":"monotone"},
   "encoding":{"color":{"datum":"Fit","type":"nominal","scale":{"domain":["Seg","Fit"],"range":["#000000","#0000ff"]},"legend":{"title":null,"orient":"top-left","offset":7,"symbolType":"stroke","symbolSize":900,"symbolStrokeWidth":2.5,"labelFontSize":19,"labelColor":"black","strokeColor":"black","fillColor":"white","padding":8,"rowPadding":2,"labelOffset":6}}}}]},
{"width":117,"height":171,"transform":[{"filter":"datum.r=='3' && datum.c=='0.60'"}],
 "encoding":{"x":{"field":"x","type":"quantitative","scale":{"domain":[0,6]},"axis":{"values":[0,3,6],"orient":"top","labels":false,"title":"fᵢₙₜ = 0.60","titleBaseline":"alphabetic","titlePadding":21}},"y":{"field":"y","type":"quantitative","scale":{"domain":[0,0.12]},"axis":{"values":[0,0.05,0.1],"title":null,"labels":false}}},
 "layer":[{"transform":[{"filter":"datum.k=='b'"}],"mark":{"type":"bar","size":1.5,"color":"black"}},{"transform":[{"filter":"datum.k=='f'"}],"mark":{"type":"line","strokeWidth":2.5,"interpolate":"monotone","color":"#008000"}}]},
{"width":117,"height":171,"transform":[{"filter":"datum.r=='3' && datum.c=='0.50'"}],
 "encoding":{"x":{"field":"x","type":"quantitative","scale":{"domain":[0,6]},"axis":{"values":[0,3,6],"orient":"top","labels":false,"title":"fᵢₙₜ = 0.50","titleBaseline":"alphabetic","titlePadding":21}},"y":{"field":"y","type":"quantitative","scale":{"domain":[0,0.12]},"axis":{"values":[0,0.05,0.1],"title":null,"labels":false}}},
 "layer":[{"transform":[{"filter":"datum.k=='b'"}],"mark":{"type":"bar","size":1.5,"color":"black"}},{"transform":[{"filter":"datum.k=='f'"}],"mark":{"type":"line","strokeWidth":2.5,"interpolate":"monotone","color":"#ff0000"}}]},
{"width":117,"height":171,"transform":[{"filter":"datum.r=='3' && datum.c=='0.40'"}],
 "encoding":{"x":{"field":"x","type":"quantitative","scale":{"domain":[0,6]},"axis":{"values":[0,3,6],"orient":"top","labels":false,"title":"fᵢₙₜ = 0.40","titleBaseline":"alphabetic","titlePadding":21}},"y":{"field":"y","type":"quantitative","scale":{"domain":[0,0.12]},"axis":{"values":[0,0.05,0.1],"title":null,"labels":false}}},
 "layer":[{"transform":[{"filter":"datum.k=='b'"}],"mark":{"type":"bar","size":1.5,"color":"black"}},{"transform":[{"filter":"datum.k=='f'"}],"mark":{"type":"line","strokeWidth":2.5,"interpolate":"monotone","color":"#00bfbf"}}]},
{"width":117,"height":171,"transform":[{"filter":"datum.r=='3' && datum.c=='0.30'"}],
 "encoding":{"x":{"field":"x","type":"quantitative","scale":{"domain":[0,6]},"axis":{"values":[0,3,6],"orient":"top","labels":false,"title":"fᵢₙₜ = 0.30","titleBaseline":"alphabetic","titlePadding":21}},"y":{"field":"y","type":"quantitative","scale":{"domain":[0,0.12]},"axis":{"values":[0,0.05,0.1],"title":null,"labels":false}}},
 "layer":[{"transform":[{"filter":"datum.k=='b'"}],"mark":{"type":"bar","size":1.5,"color":"black"}},{"transform":[{"filter":"datum.k=='f'"}],"mark":{"type":"line","strokeWidth":2.5,"interpolate":"monotone","color":"#bf00bf"}}]},
{"width":117,"height":171,"transform":[{"filter":"datum.r=='2' && datum.c=='0.73'"}],
 "title":{"text":["Volume-weighted probability","2 × R"],"orient":"left","anchor":"middle","fontSize":19,"lineHeight":17,"offset":1,"dx":-8},
 "encoding":{"x":{"field":"x","type":"quantitative","scale":{"domain":[0,6]},"axis":{"values":[0,3,6],"title":null,"labels":false}},"y":{"field":"y","type":"quantitative","scale":{"domain":[0,0.12]},"axis":{"values":[0,0.05,0.1],"format":"~g","title":"dist,genu","titleFontSize":12,"titleAlign":"left","titleY":71,"titlePadding":6}}},
 "layer":[{"transform":[{"filter":"datum.k=='b'"}],"mark":{"type":"bar","size":1.5,"color":"black"}},{"transform":[{"filter":"datum.k=='f'"}],"mark":{"type":"line","strokeWidth":2.5,"interpolate":"monotone","color":"#0000ff"}}]},
{"width":117,"height":171,"transform":[{"filter":"datum.r=='2' && datum.c=='0.60'"}],
 "encoding":{"x":{"field":"x","type":"quantitative","scale":{"domain":[0,6]},"axis":{"values":[0,3,6],"title":null,"labels":false}},"y":{"field":"y","type":"quantitative","scale":{"domain":[0,0.12]},"axis":{"values":[0,0.05,0.1],"title":null,"labels":false}}},
 "layer":[{"transform":[{"filter":"datum.k=='b'"}],"mark":{"type":"bar","size":1.5,"color":"black"}},{"transform":[{"filter":"datum.k=='f'"}],"mark":{"type":"line","strokeWidth":2.5,"interpolate":"monotone","color":"#008000"}}]},
{"width":117,"height":171,"transform":[{"filter":"datum.r=='2' && datum.c=='0.50'"}],
 "encoding":{"x":{"field":"x","type":"quantitative","scale":{"domain":[0,6]},"axis":{"values":[0,3,6],"title":null,"labels":false}},"y":{"field":"y","type":"quantitative","scale":{"domain":[0,0.12]},"axis":{"values":[0,0.05,0.1],"title":null,"labels":false}}},
 "layer":[{"transform":[{"filter":"datum.k=='b'"}],"mark":{"type":"bar","size":1.5,"color":"black"}},{"transform":[{"filter":"datum.k=='f'"}],"mark":{"type":"line","strokeWidth":2.5,"interpolate":"monotone","color":"#ff0000"}}]},
{"width":117,"height":171,"transform":[{"filter":"datum.r=='2' && datum.c=='0.40'"}],
 "encoding":{"x":{"field":"x","type":"quantitative","scale":{"domain":[0,6]},"axis":{"values":[0,3,6],"title":null,"labels":false}},"y":{"field":"y","type":"quantitative","scale":{"domain":[0,0.12]},"axis":{"values":[0,0.05,0.1],"title":null,"labels":false}}},
 "layer":[{"transform":[{"filter":"datum.k=='b'"}],"mark":{"type":"bar","size":1.5,"color":"black"}},{"transform":[{"filter":"datum.k=='f'"}],"mark":{"type":"line","strokeWidth":2.5,"interpolate":"monotone","color":"#00bfbf"}}]},
{"width":117,"height":171,"transform":[{"filter":"datum.r=='2' && datum.c=='0.30'"}],
 "encoding":{"x":{"field":"x","type":"quantitative","scale":{"domain":[0,6]},"axis":{"values":[0,3,6],"title":null,"labels":false}},"y":{"field":"y","type":"quantitative","scale":{"domain":[0,0.12]},"axis":{"values":[0,0.05,0.1],"title":null,"labels":false}}},
 "layer":[{"transform":[{"filter":"datum.k=='b'"}],"mark":{"type":"bar","size":1.5,"color":"black"}},{"transform":[{"filter":"datum.k=='f'"}],"mark":{"type":"line","strokeWidth":2.5,"interpolate":"monotone","color":"#bf00bf"}}]},
{"width":117,"height":171,"transform":[{"filter":"datum.r=='1' && datum.c=='0.73'"}],
 "title":{"text":"R","orient":"left","anchor":"middle","fontSize":18,"offset":1,"dx":-28},
 "encoding":{"x":{"field":"x","type":"quantitative","scale":{"domain":[0,6]},"axis":{"values":[0,3,6],"title":null,"labelPadding":4}},"y":{"field":"y","type":"quantitative","scale":{"domain":[0,0.12]},"axis":{"values":[0,0.05,0.1],"format":"~g","title":"dist,genu","titleFontSize":12,"titleAlign":"left","titleY":107,"titlePadding":6}}},
 "layer":[{"transform":[{"filter":"datum.k=='b'"}],"mark":{"type":"bar","size":1.5,"color":"black"}},{"transform":[{"filter":"datum.k=='f'"}],"mark":{"type":"line","strokeWidth":2.5,"interpolate":"monotone","color":"#0000ff"}}]},
{"width":117,"height":171,"transform":[{"filter":"datum.r=='1' && datum.c=='0.60'"}],
 "title":{"text":"a","orient":"bottom","anchor":"start","frame":"group","fontSize":21,"fontWeight":"bold","baseline":"alphabetic","offset":0,"dx":-249,"dy":-5},
 "encoding":{"x":{"field":"x","type":"quantitative","scale":{"domain":[0,6]},"axis":{"values":[0,3,6],"title":null,"labelPadding":4}},"y":{"field":"y","type":"quantitative","scale":{"domain":[0,0.12]},"axis":{"values":[0,0.05,0.1],"title":null,"labels":false}}},
 "layer":[{"transform":[{"filter":"datum.k=='b'"}],"mark":{"type":"bar","size":1.5,"color":"black"}},{"transform":[{"filter":"datum.k=='f'"}],"mark":{"type":"line","strokeWidth":2.5,"interpolate":"monotone","color":"#008000"}}]},
{"width":117,"height":171,"transform":[{"filter":"datum.r=='1' && datum.c=='0.50'"}],
 "encoding":{"x":{"field":"x","type":"quantitative","scale":{"domain":[0,6]},"axis":{"values":[0,3,6],"title":"R₀ (μm)","labelPadding":4,"titlePadding":2}},"y":{"field":"y","type":"quantitative","scale":{"domain":[0,0.12]},"axis":{"values":[0,0.05,0.1],"title":null,"labels":false}}},
 "layer":[{"transform":[{"filter":"datum.k=='b'"}],"mark":{"type":"bar","size":1.5,"color":"black"}},{"transform":[{"filter":"datum.k=='f'"}],"mark":{"type":"line","strokeWidth":2.5,"interpolate":"monotone","color":"#ff0000"}}]},
{"width":117,"height":171,"transform":[{"filter":"datum.r=='1' && datum.c=='0.40'"}],
 "encoding":{"x":{"field":"x","type":"quantitative","scale":{"domain":[0,6]},"axis":{"values":[0,3,6],"title":null,"labelPadding":4}},"y":{"field":"y","type":"quantitative","scale":{"domain":[0,0.12]},"axis":{"values":[0,0.05,0.1],"title":null,"labels":false}}},
 "layer":[{"transform":[{"filter":"datum.k=='b'"}],"mark":{"type":"bar","size":1.5,"color":"black"}},{"transform":[{"filter":"datum.k=='f'"}],"mark":{"type":"line","strokeWidth":2.5,"interpolate":"monotone","color":"#00bfbf"}}]},
{"width":117,"height":171,"transform":[{"filter":"datum.r=='1' && datum.c=='0.30'"}],
 "encoding":{"x":{"field":"x","type":"quantitative","scale":{"domain":[0,6]},"axis":{"values":[0,3,6],"title":null,"labelPadding":4}},"y":{"field":"y","type":"quantitative","scale":{"domain":[0,0.12]},"axis":{"values":[0,0.05,0.1],"title":null,"labels":false}}},
 "layer":[{"transform":[{"filter":"datum.k=='b'"}],"mark":{"type":"bar","size":1.5,"color":"black"}},{"transform":[{"filter":"datum.k=='f'"}],"mark":{"type":"line","strokeWidth":2.5,"interpolate":"monotone","color":"#bf00bf"}}]}
]
},
{
"bounds":"flush",
"spacing":108,
"hconcat":[
{
 "width":282,"height":171,
 "title":{"text":"b","orient":"bottom","anchor":"start","frame":"group","fontSize":21,"fontWeight":"bold","baseline":"alphabetic","offset":0,"dx":-111,"dy":-3},
 "layer":[
  {"data":{"values":[{"x":0,"y":0},{"x":3,"y":3}]},
   "mark":{"type":"line","color":"black","strokeDash":[9,6],"strokeWidth":2},
   "encoding":{
    "x":{"field":"x","type":"quantitative","scale":{"domain":[0,3]},"axis":{"values":[0,1,2,3],"title":"Wt. mean R₀ from seg. (μm)","titlePadding":2}},
    "y":{"field":"y","type":"quantitative","scale":{"domain":[-1,8]},"axis":{"values":[0,2,4,6,8],"title":"Wt. mean R₀ from fit (μm)","titlePadding":15}}
   }},
  {"data":{"name":"bpts"},
   "mark":{"type":"errorbar","ticks":{"size":6,"thickness":1.5},"rule":{"strokeWidth":2}},
   "encoding":{
    "x":{"field":"xs","type":"quantitative","scale":{"domain":[0,3]},"axis":{"values":[0,1,2,3],"title":"Wt. mean R₀ from seg. (μm)","titlePadding":2}},
    "y":{"field":"lo","type":"quantitative","scale":{"domain":[-1,8]},"axis":{"values":[0,2,4,6,8],"title":"Wt. mean R₀ from fit (μm)","titlePadding":15}},
    "y2":{"field":"hi"},
    "color":{"field":"c","type":"nominal","scale":{"domain":["0.73","0.60","0.50","0.40","0.30"],"range":["#0000ff","#008000","#ff0000","#00bfbf","#bf00bf"]},"legend":null}
   }},
  {"data":{"name":"bpts"},
   "mark":{"type":"point","filled":false,"strokeWidth":2,"size":110,"opacity":1},
   "encoding":{
    "x":{"field":"xs","type":"quantitative","scale":{"domain":[0,3]},"axis":{"values":[0,1,2,3],"title":"Wt. mean R₀ from seg. (μm)","titlePadding":2}},
    "y":{"field":"yf","type":"quantitative","scale":{"domain":[-1,8]},"axis":{"values":[0,2,4,6,8],"title":"Wt. mean R₀ from fit (μm)","titlePadding":15}},
    "color":{"field":"c","type":"nominal","scale":{"domain":["0.73","0.60","0.50","0.40","0.30"],"range":["#0000ff","#008000","#ff0000","#00bfbf","#bf00bf"]},"legend":null},
    "shape":{"field":"c","type":"nominal","scale":{"domain":["0.73","0.60","0.50","0.40","0.30"],"range":["circle","square","diamond","triangle-up","triangle-down"]},"legend":null}
   }}
 ]
},
{
 "width":281,"height":171,
 "title":{"text":"c","orient":"bottom","anchor":"start","frame":"group","fontSize":21,"fontWeight":"bold","baseline":"alphabetic","offset":0,"dx":-70,"dy":-3},
 "layer":[
  {"data":{"name":"clines"},
   "mark":{"type":"line","color":"black","strokeWidth":2,"interpolate":"monotone"},
   "encoding":{
    "x":{"field":"f","type":"quantitative","scale":{"domain":[0.2,0.8]},"axis":{"values":[0.2,0.4,0.6,0.8],"format":"~g","title":"fᵢₙₜ","titlePadding":2}},
    "y":{"field":"R","type":"quantitative","scale":{"domain":[0,2]},"axis":{"values":[0,0.5,1,1.5,2],"format":"~g","title":"R∞ (μm)","titlePadding":18}},
    "detail":{"field":"g"}
   }},
  {"data":{"name":"cpts"},
   "mark":{"type":"point","filled":false,"strokeWidth":2,"size":110,"opacity":1},
   "encoding":{
    "x":{"field":"f","type":"quantitative","scale":{"domain":[0.2,0.8]},"axis":{"values":[0.2,0.4,0.6,0.8],"format":"~g","title":"fᵢₙₜ","titlePadding":2}},
    "y":{"field":"R","type":"quantitative","scale":{"domain":[0,2]},"axis":{"values":[0,0.5,1,1.5,2],"format":"~g","title":"R∞ (μm)","titlePadding":18}},
    "color":{"field":"c","type":"nominal","scale":{"domain":["0.73","0.60","0.50","0.40","0.30"],"range":["#0000ff","#008000","#ff0000","#00bfbf","#bf00bf"]},"legend":null},
    "shape":{"field":"c","type":"nominal","scale":{"domain":["0.73","0.60","0.50","0.40","0.30"],"range":["circle","square","diamond","triangle-up","triangle-down"]},"legend":null}
   }}
 ]
}
]
}
]
}
